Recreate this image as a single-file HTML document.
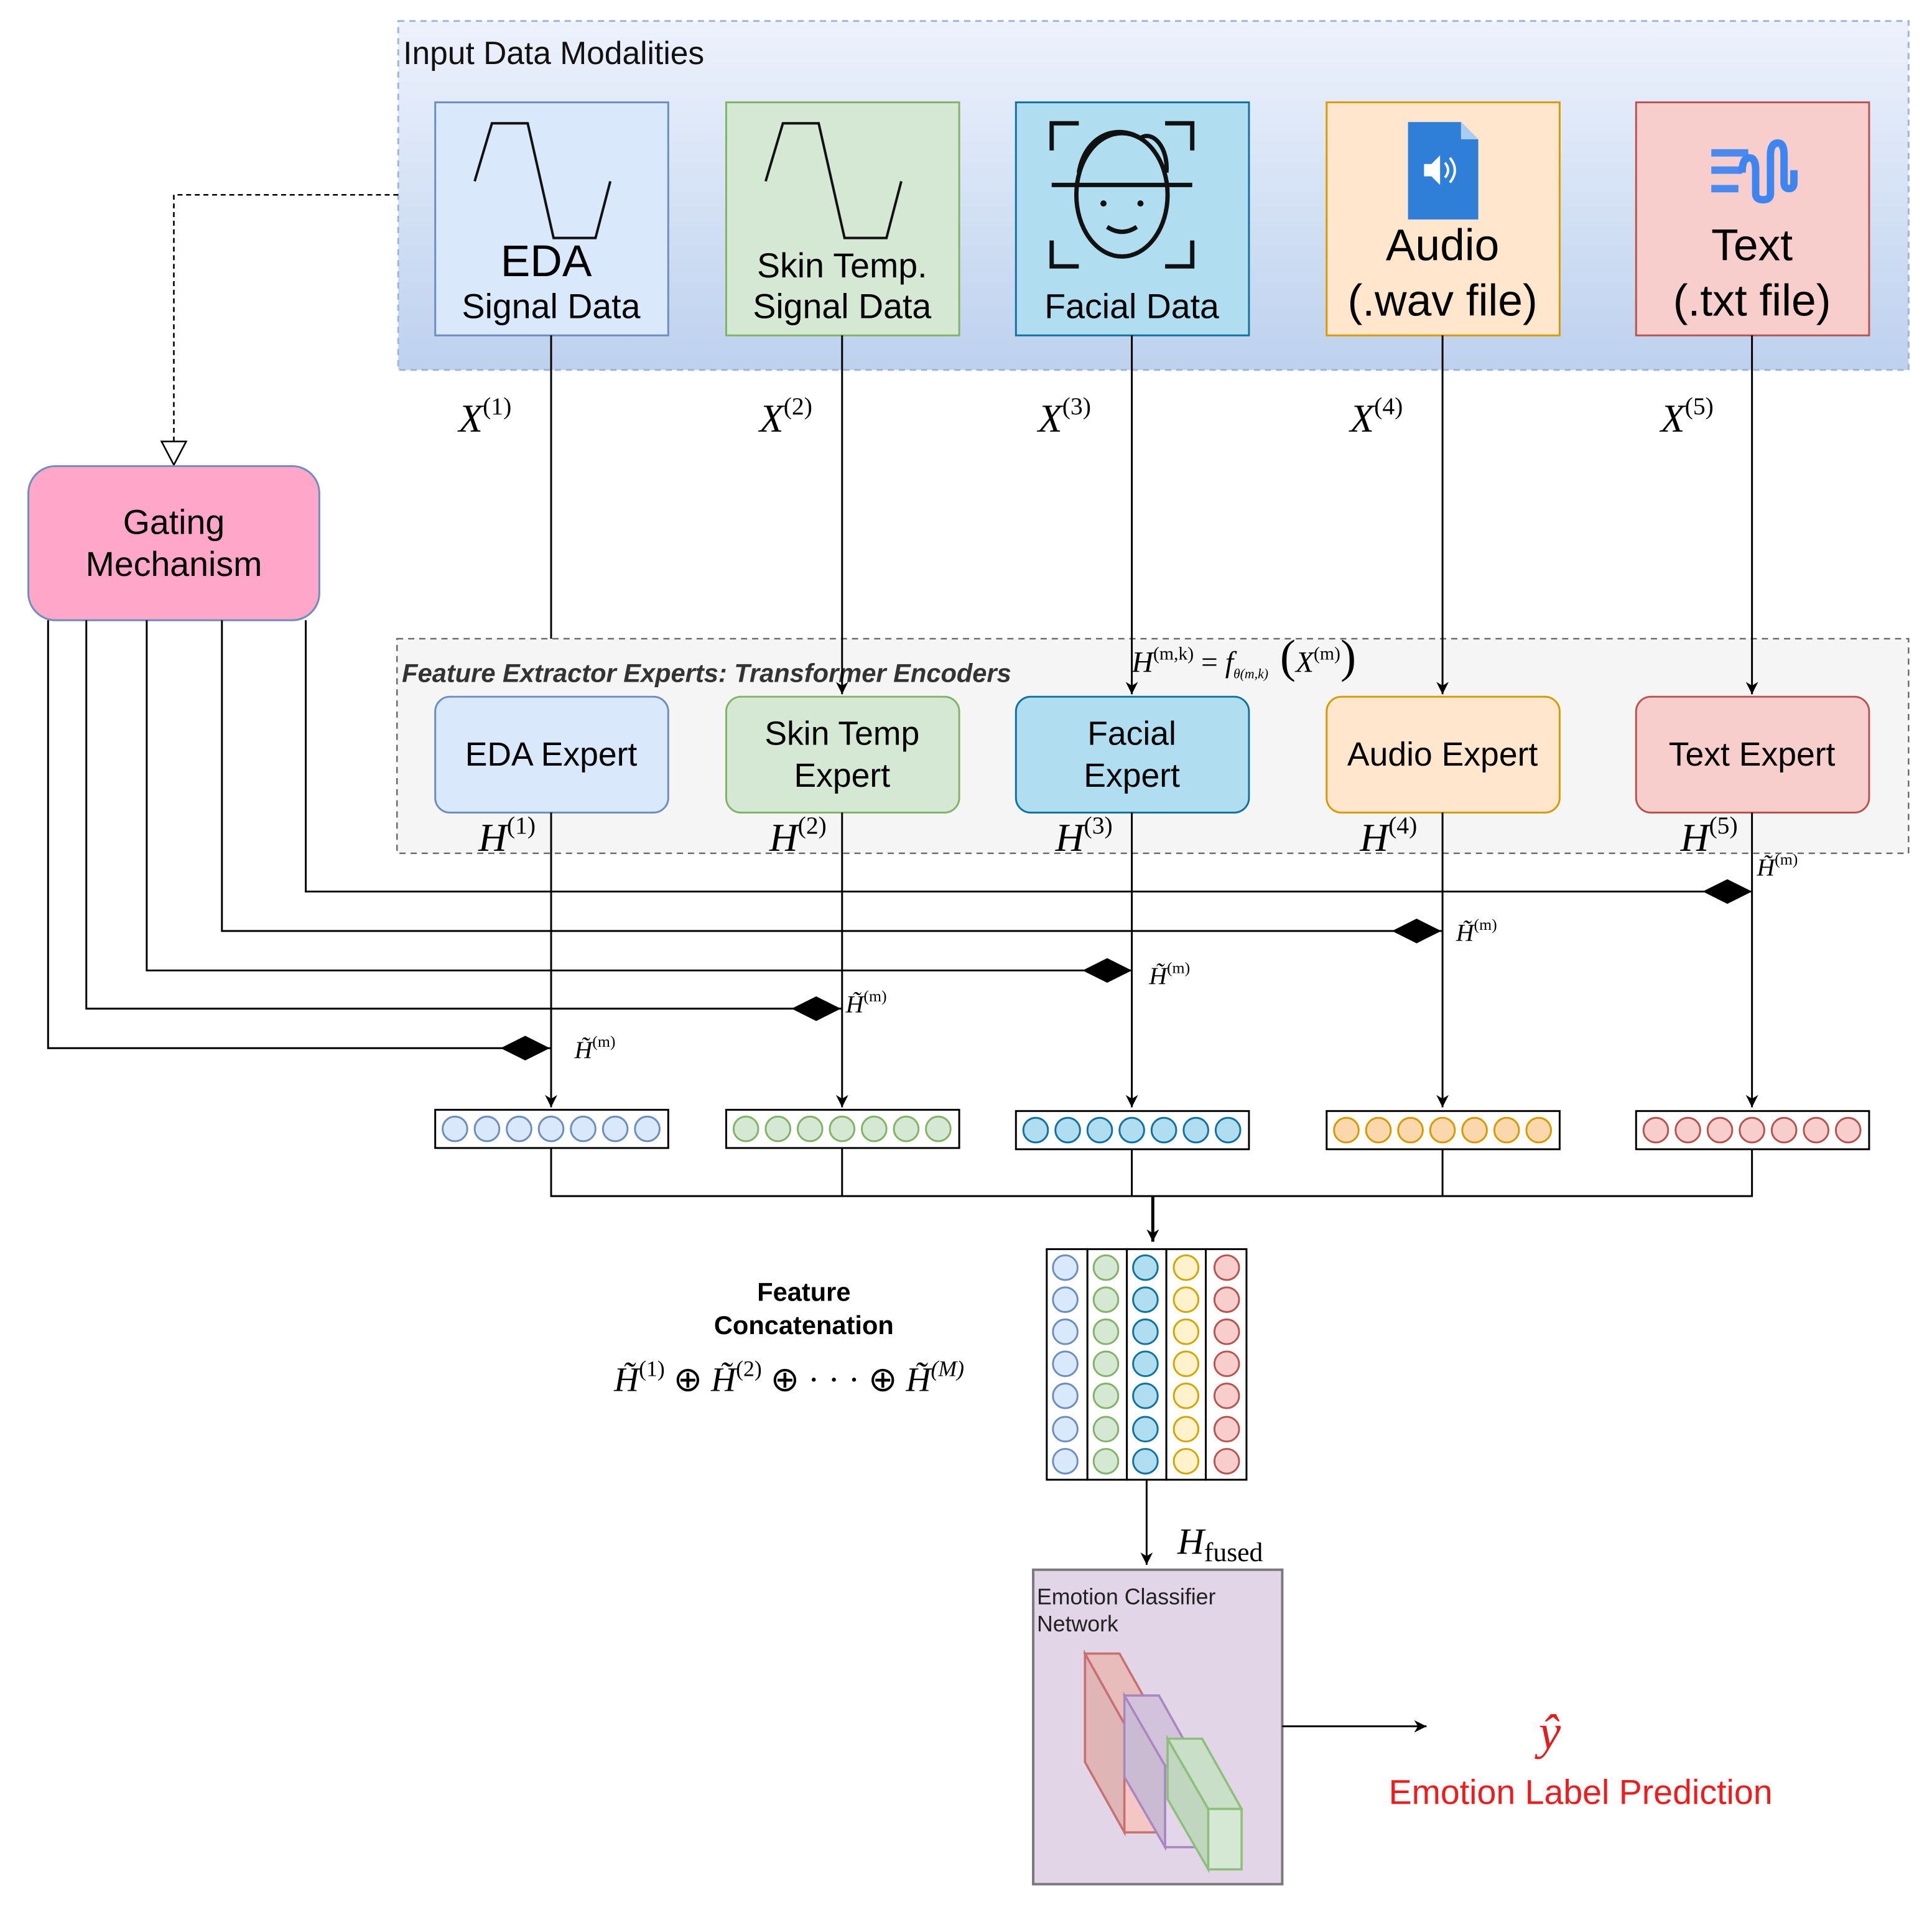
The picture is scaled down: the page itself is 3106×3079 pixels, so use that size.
<!DOCTYPE html>
<html><head><meta charset="utf-8"><style>
html,body{margin:0;padding:0;background:#fff;}
svg{display:block;}
text{font-family:"Liberation Sans",sans-serif;}
.m{font-family:"Liberation Serif",serif;font-style:italic;}
</style></head><body>
<svg width="3106" height="3079" viewBox="0 0 1567 1553" preserveAspectRatio="none" xmlns="http://www.w3.org/2000/svg">
<defs>
<linearGradient id="g1" x1="0" y1="0" x2="0" y2="1"><stop offset="0" stop-color="#edf2fc"/><stop offset="1" stop-color="#bdd1ee"/></linearGradient>
<marker id="ar" markerWidth="12" markerHeight="12" refX="10" refY="5" orient="auto" markerUnits="userSpaceOnUse"><path d="M0,0 L10,5 L0,10 L3,5 Z" fill="#000"/></marker>
</defs>
<rect x="323" y="17" width="1225" height="283" fill="url(#g1)" stroke="#9fb6d9" stroke-dasharray="5,4" stroke-width="1.5"/>
<text x="327" y="52" font-size="26" fill="#111">Input Data Modalities</text>
<rect x="353" y="83" width="189" height="189" fill="#dae8fc" stroke="#6c8ebf" stroke-width="1.5"/>
<rect x="589" y="83" width="189" height="189" fill="#d5e8d4" stroke="#82b366" stroke-width="1.5"/>
<rect x="824" y="83" width="189" height="189" fill="#b1ddf0" stroke="#10739e" stroke-width="1.5"/>
<rect x="1076" y="83" width="189" height="189" fill="#ffe6cc" stroke="#d79b00" stroke-width="1.5"/>
<rect x="1327" y="83" width="189" height="189" fill="#f8cecc" stroke="#b85450" stroke-width="1.5"/>
<path d="M385,147 L399,100 L428,100 L449,193 L483,193 L495,147" fill="none" stroke="#111" stroke-width="2"/>
<path d="M621,147 L635,100 L664,100 L685,193 L719,193 L731,147" fill="none" stroke="#111" stroke-width="2"/>
<text x="443" y="224" font-size="36" text-anchor="middle">EDA</text>
<text x="447" y="258" font-size="28" text-anchor="middle">Signal Data</text>
<text x="683" y="225" font-size="28" text-anchor="middle">Skin Temp.</text>
<text x="683" y="258" font-size="28" text-anchor="middle">Signal Data</text>
<g fill="none" stroke="#111" stroke-width="3.5">
<path d="M853,122 V100 H875 M945,100 H967 V122 M853,195 V216 H875 M945,216 H967 V195"/>
<path d="M853,150 H967"/>
<ellipse cx="910" cy="158" rx="37" ry="50"/>
<path d="M875,140 C880,110 905,100 925,112 C935,105 948,120 946,140"/>
<path d="M898,184 Q910,192 922,184"/>
</g>
<circle cx="895" cy="165" r="2.5" fill="#111"/><circle cx="925" cy="165" r="2.5" fill="#111"/>
<text x="918" y="258" font-size="28" text-anchor="middle">Facial Data</text>
<path d="M1142,99 H1185 L1199,113 V178 H1142 Z" fill="#2f7fd8"/>
<path d="M1185,99 V113 H1199 Z" fill="#a9ccf3"/>
<path d="M1155,133 H1161 L1168,126 V150 L1161,143 H1155 Z" fill="#fff"/>
<path d="M1172,132 Q1177,138 1172,144 M1176,128 Q1184,138 1176,148" stroke="#fff" stroke-width="2" fill="none"/>
<text x="1170" y="211" font-size="36" text-anchor="middle">Audio</text>
<text x="1170" y="256" font-size="36" text-anchor="middle">(.wav file)</text>
<g stroke="#4a8af0" stroke-width="6" fill="none">
<path d="M1388,124 H1418 M1388,138 H1413 M1388,153 H1410"/>
<path d="M1413,140 Q1413,128 1419,128 Q1424,128 1424,138 V157 Q1424,162 1430,162 Q1436,162 1436,157 V126 Q1436,116 1442,116 Q1447,116 1447,126 V148 Q1447,153 1451,153 Q1455,153 1455,148 V138" stroke="#3d85f0"/>
</g>
<text x="1421" y="211" font-size="36" text-anchor="middle">Text</text>
<text x="1421" y="256" font-size="36" text-anchor="middle">(.txt file)</text>
<rect x="322" y="518" width="1226" height="174" fill="#f5f5f5" stroke="#666" stroke-dasharray="5,4" stroke-width="1.2"/>
<text x="326" y="553" font-size="21" font-weight="bold" font-style="italic" fill="#333">Feature Extractor Experts: Transformer Encoders</text>
<g stroke="#000" stroke-width="1.5" fill="none">
<line x1="447" y1="272" x2="447" y2="518"/>
<line x1="683" y1="272" x2="683" y2="563" marker-end="url(#ar)"/>
<line x1="918" y1="272" x2="918" y2="563" marker-end="url(#ar)"/>
<line x1="1170" y1="272" x2="1170" y2="563" marker-end="url(#ar)"/>
<line x1="1421" y1="272" x2="1421" y2="563" marker-end="url(#ar)"/>
</g>
<g font-size="32">
<text x="372" y="350" class="m">X<tspan font-size="20" dy="-14" font-style="normal">(1)</tspan></text>
<text x="616" y="350" class="m">X<tspan font-size="20" dy="-14" font-style="normal">(2)</tspan></text>
<text x="842" y="350" class="m">X<tspan font-size="20" dy="-14" font-style="normal">(3)</tspan></text>
<text x="1095" y="350" class="m">X<tspan font-size="20" dy="-14" font-style="normal">(4)</tspan></text>
<text x="1347" y="350" class="m">X<tspan font-size="20" dy="-14" font-style="normal">(5)</tspan></text>
</g>
<text x="918" y="545" font-size="24" class="m">H<tspan font-size="15" dy="-10" font-style="normal">(m,k)</tspan><tspan dy="10" font-style="normal"> = </tspan>f<tspan font-size="11" dy="5">θ(m,k)</tspan><tspan dy="-5" font-size="38" font-style="normal"> (</tspan>X<tspan font-size="15" dy="-10" font-style="normal">(m)</tspan><tspan dy="10" font-size="38" font-style="normal">)</tspan></text>
<rect x="353" y="565" width="189" height="94" rx="12" fill="#dae8fc" stroke="#6c8ebf" stroke-width="1.5"/>
<rect x="589" y="565" width="189" height="94" rx="12" fill="#d5e8d4" stroke="#82b366" stroke-width="1.5"/>
<rect x="824" y="565" width="189" height="94" rx="12" fill="#b1ddf0" stroke="#10739e" stroke-width="1.5"/>
<rect x="1076" y="565" width="189" height="94" rx="12" fill="#ffe6cc" stroke="#d79b00" stroke-width="1.5"/>
<rect x="1327" y="565" width="189" height="94" rx="12" fill="#f8cecc" stroke="#b85450" stroke-width="1.5"/>
<g font-size="27" text-anchor="middle">
<text x="447" y="621">EDA Expert</text>
<text x="683" y="604">Skin Temp</text><text x="683" y="638">Expert</text>
<text x="918" y="604">Facial</text><text x="918" y="638">Expert</text>
<text x="1170" y="621">Audio Expert</text>
<text x="1421" y="621">Text Expert</text>
</g>
<g font-size="32">
<text x="388" y="690" class="m">H<tspan font-size="20" dy="-14" font-style="normal">(1)</tspan></text>
<text x="624" y="690" class="m">H<tspan font-size="20" dy="-14" font-style="normal">(2)</tspan></text>
<text x="856" y="690" class="m">H<tspan font-size="20" dy="-14" font-style="normal">(3)</tspan></text>
<text x="1103" y="690" class="m">H<tspan font-size="20" dy="-14" font-style="normal">(4)</tspan></text>
<text x="1363" y="690" class="m">H<tspan font-size="20" dy="-14" font-style="normal">(5)</tspan></text>
</g>
<path d="M323,158 H141 V360" fill="none" stroke="#000" stroke-width="1.3" stroke-dasharray="4,3"/>
<path d="M131,358 L151,358 L141,377 Z" fill="#fff" stroke="#000" stroke-width="1.3"/>
<rect x="23" y="378" width="236" height="125" rx="22" fill="#ffa6c9" stroke="#6c8ebf" stroke-width="1.5"/>
<text x="141" y="433" font-size="28" text-anchor="middle">Gating</text>
<text x="141" y="467" font-size="28" text-anchor="middle">Mechanism</text>
<g stroke="#000" stroke-width="1.5" fill="none">
<line x1="447" y1="659" x2="447" y2="898" marker-end="url(#ar)"/>
<line x1="683" y1="659" x2="683" y2="898" marker-end="url(#ar)"/>
<line x1="918" y1="659" x2="918" y2="898" marker-end="url(#ar)"/>
<line x1="1170" y1="659" x2="1170" y2="898" marker-end="url(#ar)"/>
<line x1="1421" y1="659" x2="1421" y2="898" marker-end="url(#ar)"/>
<path d="M39,503 V850 H447"/>
<path d="M70,503 V818 H683"/>
<path d="M119,503 V787 H918"/>
<path d="M180,503 V755 H1170"/>
<path d="M248,503 V723 H1421"/>
</g>
<g fill="#000">
<path d="M406,850 L426,840 L446,850 L426,860 Z"/>
<path d="M642,818 L662,808 L682,818 L662,828 Z"/>
<path d="M878,787 L898,777 L918,787 L898,797 Z"/>
<path d="M1129,755 L1149,745 L1169,755 L1149,765 Z"/>
<path d="M1381,723 L1401,713 L1421,723 L1401,733 Z"/>
</g>
<g font-size="20">
<text x="466" y="858" class="m">H̃<tspan font-size="13" dy="-9" font-style="normal">(m)</tspan></text>
<text x="686" y="821" class="m">H̃<tspan font-size="13" dy="-9" font-style="normal">(m)</tspan></text>
<text x="932" y="798" class="m">H̃<tspan font-size="13" dy="-9" font-style="normal">(m)</tspan></text>
<text x="1181" y="763" class="m">H̃<tspan font-size="13" dy="-9" font-style="normal">(m)</tspan></text>
<text x="1425" y="710" class="m">H̃<tspan font-size="13" dy="-9" font-style="normal">(m)</tspan></text>
</g>
<g stroke="#000" stroke-width="1.5" fill="#fff">
<rect x="353" y="900" width="189" height="31"/>
<rect x="589" y="900" width="189" height="31"/>
<rect x="824" y="901" width="189" height="31"/>
<rect x="1076" y="901" width="189" height="31"/>
<rect x="1327" y="901" width="189" height="31"/>
</g>
<g stroke-width="1.5">
<g fill="#dae8fc" stroke="#6c8ebf"><circle cx="369" cy="915.5" r="10"/><circle cx="395" cy="915.5" r="10"/><circle cx="421" cy="915.5" r="10"/><circle cx="447" cy="915.5" r="10"/><circle cx="473" cy="915.5" r="10"/><circle cx="499" cy="915.5" r="10"/><circle cx="525" cy="915.5" r="10"/></g>
<g fill="#d5e8d4" stroke="#82b366"><circle cx="605" cy="915.5" r="10"/><circle cx="631" cy="915.5" r="10"/><circle cx="657" cy="915.5" r="10"/><circle cx="683" cy="915.5" r="10"/><circle cx="709" cy="915.5" r="10"/><circle cx="735" cy="915.5" r="10"/><circle cx="761" cy="915.5" r="10"/></g>
<g fill="#b1ddf0" stroke="#10739e"><circle cx="840" cy="916.5" r="10"/><circle cx="866" cy="916.5" r="10"/><circle cx="892" cy="916.5" r="10"/><circle cx="918" cy="916.5" r="10"/><circle cx="944" cy="916.5" r="10"/><circle cx="970" cy="916.5" r="10"/><circle cx="996" cy="916.5" r="10"/></g>
<g fill="#fad7ac" stroke="#d79b00"><circle cx="1092" cy="916.5" r="10"/><circle cx="1118" cy="916.5" r="10"/><circle cx="1144" cy="916.5" r="10"/><circle cx="1170" cy="916.5" r="10"/><circle cx="1196" cy="916.5" r="10"/><circle cx="1222" cy="916.5" r="10"/><circle cx="1248" cy="916.5" r="10"/></g>
<g fill="#f8cecc" stroke="#b85450"><circle cx="1343" cy="916.5" r="10"/><circle cx="1369" cy="916.5" r="10"/><circle cx="1395" cy="916.5" r="10"/><circle cx="1421" cy="916.5" r="10"/><circle cx="1447" cy="916.5" r="10"/><circle cx="1473" cy="916.5" r="10"/><circle cx="1499" cy="916.5" r="10"/></g>
</g>
<g stroke="#000" stroke-width="1.5" fill="none">
<path d="M447,931 V970 H1421 V932"/>
<line x1="683" y1="931" x2="683" y2="970"/>
<line x1="918" y1="932" x2="918" y2="970"/>
<line x1="1170" y1="932" x2="1170" y2="970"/>
<line x1="935" y1="970" x2="935" y2="1007" stroke-width="2.5" marker-end="url(#ar)"/>
</g>
<g stroke="#000" stroke-width="1.5" fill="#fff">
<rect x="849" y="1013" width="33" height="187"/><rect x="882" y="1013" width="32" height="187"/><rect x="914" y="1013" width="32" height="187"/><rect x="946" y="1013" width="32" height="187"/><rect x="978" y="1013" width="33" height="187"/>
</g>
<g stroke-width="1.5">
<g fill="#dae8fc" stroke="#6c8ebf"><circle cx="864" cy="1028" r="10"/><circle cx="864" cy="1054" r="10"/><circle cx="864" cy="1080" r="10"/><circle cx="864" cy="1106" r="10"/><circle cx="864" cy="1132" r="10"/><circle cx="864" cy="1159" r="10"/><circle cx="864" cy="1185" r="10"/></g>
<g fill="#d5e8d4" stroke="#82b366"><circle cx="897" cy="1028" r="10"/><circle cx="897" cy="1054" r="10"/><circle cx="897" cy="1080" r="10"/><circle cx="897" cy="1106" r="10"/><circle cx="897" cy="1132" r="10"/><circle cx="897" cy="1159" r="10"/><circle cx="897" cy="1185" r="10"/></g>
<g fill="#b1ddf0" stroke="#10739e"><circle cx="929" cy="1028" r="10"/><circle cx="929" cy="1054" r="10"/><circle cx="929" cy="1080" r="10"/><circle cx="929" cy="1106" r="10"/><circle cx="929" cy="1132" r="10"/><circle cx="929" cy="1159" r="10"/><circle cx="929" cy="1185" r="10"/></g>
<g fill="#fff2cc" stroke="#d6a600"><circle cx="962" cy="1028" r="10"/><circle cx="962" cy="1054" r="10"/><circle cx="962" cy="1080" r="10"/><circle cx="962" cy="1106" r="10"/><circle cx="962" cy="1132" r="10"/><circle cx="962" cy="1159" r="10"/><circle cx="962" cy="1185" r="10"/></g>
<g fill="#f8cecc" stroke="#b85450"><circle cx="995" cy="1028" r="10"/><circle cx="995" cy="1054" r="10"/><circle cx="995" cy="1080" r="10"/><circle cx="995" cy="1106" r="10"/><circle cx="995" cy="1132" r="10"/><circle cx="995" cy="1159" r="10"/><circle cx="995" cy="1185" r="10"/></g>
</g>
<text x="652" y="1055" font-size="21" font-weight="bold" text-anchor="middle">Feature</text>
<text x="652" y="1082" font-size="21" font-weight="bold" text-anchor="middle">Concatenation</text>
<text x="498" y="1128" font-size="28" class="m">H̃<tspan font-size="18" dy="-12" font-style="normal">(1)</tspan><tspan dy="12" font-style="normal"> ⊕ </tspan>H̃<tspan font-size="18" dy="-12" font-style="normal">(2)</tspan><tspan dy="12" font-style="normal"> ⊕ · · · ⊕ </tspan>H̃<tspan font-size="18" dy="-12">(M)</tspan></text>
<line x1="930" y1="1200" x2="930" y2="1269" stroke="#000" stroke-width="1.5" marker-end="url(#ar)"/>
<text x="955" y="1260" font-size="30" class="m">H<tspan font-size="22" dy="6" font-style="normal">fused</tspan></text>
<rect x="838" y="1273" width="202" height="255" fill="#e1d5e7" stroke="#7a7a7a" stroke-width="2"/>
<text x="841" y="1301" font-size="18" fill="#222">Emotion Classifier</text>
<text x="841" y="1323" font-size="18" fill="#222">Network</text>
<g stroke-width="1.8">
<path d="M880,1341 L912,1398 L912,1486 L880,1429 Z" fill="#dfb5b5" stroke="#c87070"/>
<path d="M880,1341 L908,1341 L940,1398 L912,1398 Z" fill="#e9bcbc" stroke="#c87070"/>
<rect x="912" y="1398" width="28" height="88" fill="#f4c7c5" stroke="#c87070"/>
<path d="M912,1375 L945,1432 L945,1498 L912,1441 Z" fill="#cabbd2" stroke="#a887c0"/>
<path d="M912,1375 L940,1375 L972,1432 L945,1432 Z" fill="#d3c2dc" stroke="#a887c0"/>
<rect x="945" y="1432" width="27" height="66" fill="#e3d6ea" stroke="#a887c0"/>
<path d="M947,1410 L980,1467 L980,1516 L947,1459 Z" fill="#c0d6bf" stroke="#8cc07a"/>
<path d="M947,1410 L975,1410 L1007,1467 L980,1467 Z" fill="#c9dfc8" stroke="#8cc07a"/>
<rect x="980" y="1467" width="27" height="49" fill="#d5e8d4" stroke="#8cc07a"/>
</g>
<line x1="1040" y1="1400" x2="1157" y2="1400" stroke="#000" stroke-width="1.5" marker-end="url(#ar)"/>
<text x="1257" y="1418" font-size="40" class="m" fill="#e02020" text-anchor="middle">ŷ</text>
<text x="1282" y="1463" font-size="28" fill="#ee1c1c" text-anchor="middle">Emotion Label Prediction</text>
</svg>
</body></html>
